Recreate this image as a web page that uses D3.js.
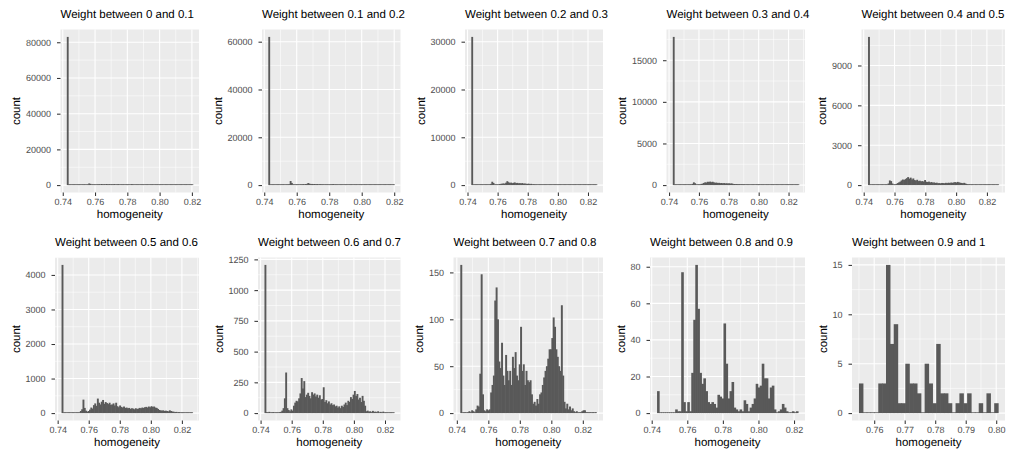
<!DOCTYPE html>
<html>
<head>
<meta charset="utf-8">
<script src="https://cdn.jsdelivr.net/npm/d3@7"></script>
<style>
body{margin:0;background:#fff;}
svg{display:block;font-family:"Liberation Sans",Arial,Helvetica,sans-serif;text-rendering:geometricPrecision;}
</style>
</head>
<body>
<div id="chart"></div>
<script>
// facet titles
const titles=["Weight between 0 and 0.1","Weight between 0.1 and 0.2","Weight between 0.2 and 0.3",
  "Weight between 0.3 and 0.4","Weight between 0.4 and 0.5","Weight between 0.5 and 0.6",
  "Weight between 0.6 and 0.7","Weight between 0.7 and 0.8","Weight between 0.8 and 0.9",
  "Weight between 0.9 and 1"];

// histogram bin range (homogeneity) per panel
const binStart=[0.7425,0.7425,0.7425,0.7425,0.7428,0.7425,0.7425,0.7422,0.7430,0.7550];
const binEnd=[0.8205,0.8200,0.8258,0.8268,0.8275,0.8268,0.8258,0.8285,0.8222,0.8006];

const xTicksA=[0.74,0.76,0.78,0.80,0.82];
const xTicksB=[0.76,0.77,0.78,0.79,0.80];
const yTicks=[[0,20000,40000,60000,80000],[0,20000,40000,60000],[0,10000,20000,30000],
  [0,5000,10000,15000],[0,3000,6000,9000],[0,1000,2000,3000,4000],[0,250,500,750,1000,1250],
  [0,50,100,150],[0,20,40,60,80],[0,5,10,15]];

// bin counts
const counts01=[83000,
  20,15,18,12,25,20,30,22,28,35,30,40,45,60,80,
  300,900,700,250,150,180,250,350,420,500,
  380,600,450,520,480,600,420,550,470,500,
  380,560,400,450,520,380,420,350,400,300,
  250,220,200,180,450,550,160,140,150,130,
  120,110,120,100,110,90,100,95,110,90,
  100,105,110,95,90,80,70,60,55,50,
  45,40,40,35,30,30,28,25,22,20,
  18,16,15,14,12,10,10,8,8,6,
  5,4,3,2];
const counts02=[62000,
  15,20,12,18,25,15,28,20,30,25,35,30,45,55,90,
  400,1700,900,200,120,150,200,280,320,380,
  300,420,350,450,500,850,600,420,480,400,
  450,380,420,350,400,380,330,360,300,320,
  280,250,230,200,380,420,150,120,110,100,
  95,90,85,90,80,85,75,80,85,90,
  80,75,70,65,60,55,50,45,40,38,
  35,30,28,25,22,20,18,16,15,13,
  12,10,9,8,7,6,5,5,4,3,
  3,2,2,1];
const counts03=[31000,
  10,8,12,6,15,10,18,12,20,15,25,20,35,60,
  250,700,450,150,100,120,160,220,260,300,
  350,280,500,820,600,450,520,400,480,550,
  420,460,380,400,350,420,300,330,280,250,
  300,220,260,180,200,120,100,80,75,70,
  72,65,60,68,62,70,65,72,68,75,
  70,65,60,55,50,48,45,40,38,35,
  32,30,28,25,22,20,18,17,15,14,
  12,11,10,9,8,7,6,6,5,4,
  4,3,3,2,2];
const counts04=[17800,
  6,4,8,5,10,7,12,8,14,10,18,15,25,45,
  150,330,220,90,60,70,100,140,180,260,
  330,300,400,380,420,350,400,320,280,300,
  250,270,230,250,210,240,200,220,190,210,
  180,200,150,130,120,125,110,115,105,110,
  100,105,95,100,90,95,85,90,88,95,
  90,100,95,105,90,85,80,75,70,60,
  45,35,30,28,25,22,20,18,16,15,
  13,12,11,10,9,8,7,6,6,5,
  4,4,3,3,2];
const counts05=[11150,
  0,0,2,0,1,3,2,1,3,5,4,6,10,20,
  120,350,300,120,60,40,80,150,200,260,
  350,420,380,450,520,600,480,560,420,500,
  380,340,400,300,330,280,300,260,380,250,
  230,260,200,230,180,200,160,180,140,150,
  130,160,150,140,170,150,180,160,190,170,
  200,220,190,240,200,180,160,140,170,120,
  80,60,70,50,40,50,30,40,25,20,
  25,15,12,10,15,8,10,6,5,4,
  3,3,2,2,1];
const counts06=[4290,
  8,5,6,4,7,5,9,6,8,10,12,15,25,
  60,110,390,150,70,40,60,100,160,130,
  230,280,210,420,300,250,330,380,270,320,
  290,260,300,240,250,280,220,300,200,170,
  220,180,160,190,150,160,140,150,120,140,
  130,110,140,120,130,150,140,160,150,170,
  180,160,190,170,200,180,190,160,150,120,
  90,80,70,80,60,70,60,50,80,60,
  45,40,30,35,25,30,20,25,20,15,
  18,12,10,8,6,5];
const counts07=[1205,
  8,4,10,6,3,8,5,2,6,4,8,10,
  20,40,120,330,40,25,15,30,20,60,
  85,100,95,120,160,285,200,260,130,150,
  165,140,120,170,150,160,135,150,125,145,
  110,115,210,90,105,80,95,70,80,65,
  70,55,60,45,55,40,60,50,70,85,
  65,100,90,130,115,150,180,140,155,110,
  125,90,140,100,60,15,20,12,15,8,
  18,10,12,8,15,6,10,5,12,4,
  6,3,5,2,4,3,2];
const counts08=[158,
  0,0,1,0,1,2,1,3,2,1,4,8,7,
  42,148,20,3,2,4,3,4,
  22,30,40,120,134,100,55,48,75,40,
  30,62,45,35,45,30,60,48,65,40,
  35,52,92,45,52,30,45,35,33,35,
  20,10,12,8,15,10,20,22,30,38,
  45,50,58,68,68,80,102,92,68,60,
  50,45,115,40,12,5,10,4,7,3,
  5,2,1,2,0,1,1,2,3,3,
  1,1,0,1,0,1,0,1];
const counts09=[12,
  0,0,0,0,0,0,0,0,2,1,
  1,77,6,1,6,1,22,51,81,57,
  22,16,19,12,6,5,6,5,3,10,
  9,8,49,27,8,12,17,3,2,1,
  2,1,7,5,1,3,5,8,16,14,
  15,27,19,19,8,14,15,2,0,1,
  2,5,3,1,0,0,1,0,1];
const counts10=[3,0,0,0,0,3,3,15,7,9,
  1,1,5,3,3,2,0,5,3,1,
  7,2,2,1,0,1,2,1,2,0,
  0,1,0,2,0,1];

var allCounts=[counts01,counts02,counts03,counts04,counts05,counts06,counts07,counts08,counts09,counts10];

var width=1011, height=456;
var panelLeft=[60.5,262,465,666.5,861.5,55,258,453.5,650,852];
var panelRight=[199,400.5,603,805,1005,199,400.5,603,805,1005];
var panelTop=[29.5,257.5], panelBottom=[192.5,420.5];

var svg=d3.select("#chart").append("svg")
  .attr("width",width)
  .attr("height",height);

allCounts.forEach(function(counts,k){
  var row=Math.floor(k/5);
  var top=panelTop[row], bottom=panelBottom[row];
  var left=panelLeft[k], right=panelRight[k];
  var lo=binStart[k], hi=binEnd[k], span=hi-lo, bw=span/counts.length;
  var xTicks=(k==9)?xTicksB:xTicksA;

  var xScale=d3.scaleLinear().domain([lo-0.05*span,hi+0.05*span]).range([left,right]);
  var yMax=d3.max(counts);
  var yScale=d3.scaleLinear().domain([-0.05*yMax,1.05*yMax]).range([bottom,top]);

  var g=svg.append("g");

  g.append("rect")
    .attr("x",left).attr("y",top)
    .attr("width",right-left).attr("height",bottom-top)
    .style("fill","#EBEBEB");

  // minor grid at midpoints
  var xStep=xTicks[1]-xTicks[0], yStep=yTicks[k][1]-yTicks[k][0];
  var xd=xScale.domain(), yd=yScale.domain();
  var xMinor=[], yMinor=[];
  for(var i=-1;i<xTicks.length;i++){
    var v=xTicks[0]+(i+0.5)*xStep;
    if(v>xd[0]&&v<xd[1]) xMinor.push(v);
  }
  for(var j=-1;j<yTicks[k].length;j++){
    var u=yTicks[k][0]+(j+0.5)*yStep;
    if(u>yd[0]&&u<yd[1]) yMinor.push(u);
  }
  g.selectAll(".xminor").data(xMinor).enter().append("line")
    .attr("x1",function(d){return xScale(d);}).attr("x2",function(d){return xScale(d);})
    .attr("y1",top).attr("y2",bottom)
    .style("stroke","#fff").style("stroke-width",0.55);
  g.selectAll(".yminor").data(yMinor).enter().append("line")
    .attr("y1",function(d){return yScale(d);}).attr("y2",function(d){return yScale(d);})
    .attr("x1",left).attr("x2",right)
    .style("stroke","#fff").style("stroke-width",0.55);
  // major grid
  g.selectAll(".xmajor").data(xTicks).enter().append("line")
    .attr("x1",function(d){return xScale(d);}).attr("x2",function(d){return xScale(d);})
    .attr("y1",top).attr("y2",bottom)
    .style("stroke","#fff").style("stroke-width",1.1);
  g.selectAll(".ymajor").data(yTicks[k]).enter().append("line")
    .attr("y1",function(d){return yScale(d);}).attr("y2",function(d){return yScale(d);})
    .attr("x1",left).attr("x2",right)
    .style("stroke","#fff").style("stroke-width",1.1);

  // bars
  var y0=yScale(0);
  g.selectAll(".bar").data(counts).enter().append("rect")
    .attr("x",function(d,i){return xScale(lo+i*bw);})
    .attr("width",function(d,i){return xScale(lo+(i+1)*bw)-xScale(lo+i*bw)+0.6;})
    .attr("y",function(d){return Math.min(yScale(d),y0-0.8);})
    .attr("height",function(d){return Math.max(y0-yScale(d),0.8);})
    .style("fill","#595959");

  // axes
  var xAxis=d3.axisBottom(xScale).tickValues(xTicks).tickFormat(d3.format(".2f"))
    .tickSize(3.5).tickPadding(2.5).tickSizeOuter(0);
  var xg=g.append("g").attr("transform","translate(0,"+bottom+")").call(xAxis);
  var yAxis=d3.axisLeft(yScale).tickValues(yTicks[k]).tickFormat(d3.format("d"))
    .tickSize(3.5).tickPadding(6).tickSizeOuter(0);
  var yg=g.append("g").attr("transform","translate("+left+",0)").call(yAxis);
  [xg,yg].forEach(function(a){
    a.select(".domain").remove();
    a.selectAll("line").style("stroke","#333333").style("stroke-width",1.05);
    a.selectAll("text").style("fill","#4D4D4D").style("font-size","9px")
      .style("font-family","'Liberation Sans',Arial,Helvetica,sans-serif");
  });

  var labelsLeft=yg.node().getBBox().x+left;

  g.append("text")
    .attr("transform","translate("+(labelsLeft-5.5)+","+((top+bottom)/2)+") rotate(-90)")
    .attr("text-anchor","middle")
    .style("font-size","11.5px")
    .text("count");

  g.append("text")
    .attr("x",(left+right)/2).attr("y",bottom+25)
    .attr("text-anchor","middle")
    .style("font-size","11.5px")
    .text("homogeneity");

  g.append("text")
    .attr("x",left).attr("y",top-11.2)
    .style("font-size","11.5px")
    .text(titles[k]);
});
</script>
</body>
</html>
